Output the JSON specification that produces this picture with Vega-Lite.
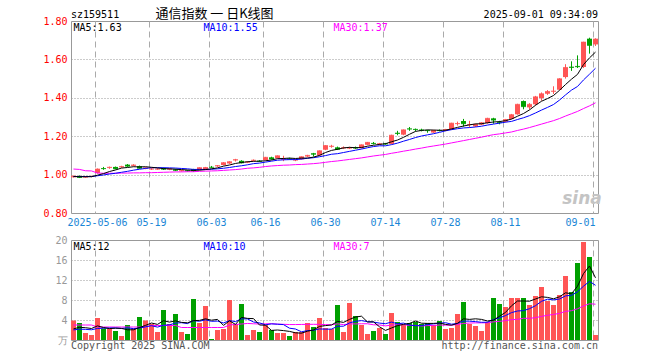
{
"$schema": "https://vega.github.io/schema/vega-lite/v6.json",
"background": "white",
"padding": {"left": 42, "top": 7, "right": 10, "bottom": 5},
"spacing": 6,
"config": {"view": {"stroke": "#999999", "strokeWidth": 1}, "axis": {"labelFont": "DejaVu Sans Mono", "labelFontSize": 10, "labelOverlap": false, "labelBound": false, "labelFlush": false, "labelSeparation": 0}},
"resolve": {"scale": {"x": "independent", "y": "independent"}},
"datasets": {"k": [
{"d":"2025-04-25","o":0.986,"h":0.995,"l":0.984,"c":0.992,"v":3.9,"m5":0.990,"m10":0.990,"m30":1.029,"vm5":2.22,"vm10":2.01,"vm30":3.0},
{"d":"2025-04-28","o":0.993,"h":0.996,"l":0.982,"c":0.985,"v":3.4,"m5":0.989,"m10":0.990,"m30":1.027,"vm5":2.54,"vm10":2.17,"vm30":3.0},
{"d":"2025-04-29","o":0.985,"h":0.992,"l":0.983,"c":0.989,"v":1.4,"m5":0.989,"m10":0.990,"m30":1.020,"vm5":2.46,"vm10":2.13,"vm30":3.0},
{"d":"2025-04-30","o":0.988,"h":0.994,"l":0.986,"c":0.991,"v":1.0,"m5":0.989,"m10":0.990,"m30":1.019,"vm5":2.30,"vm10":2.05,"vm30":3.0},
{"d":"2025-05-06","o":1.008,"h":1.032,"l":1.005,"c":1.029,"v":4.4,"m5":0.997,"m10":0.994,"m30":1.008,"vm5":2.82,"vm10":2.31,"vm30":2.6},
{"d":"2025-05-07","o":1.034,"h":1.040,"l":1.025,"c":1.031,"v":2.3,"m5":1.005,"m10":0.998,"m30":1.007,"vm5":2.50,"vm10":2.36,"vm30":2.6},
{"d":"2025-05-08","o":1.034,"h":1.042,"l":1.030,"c":1.038,"v":2.3,"m5":1.016,"m10":1.003,"m30":1.007,"vm5":2.28,"vm10":2.41,"vm30":2.6},
{"d":"2025-05-09","o":1.040,"h":1.042,"l":1.028,"c":1.030,"v":1.8,"m5":1.024,"m10":1.007,"m30":1.007,"vm5":2.36,"vm10":2.41,"vm30":2.6},
{"d":"2025-05-12","o":1.038,"h":1.046,"l":1.036,"c":1.042,"v":0.8,"m5":1.034,"m10":1.012,"m30":1.008,"vm5":2.32,"vm10":2.31,"vm30":2.6},
{"d":"2025-05-13","o":1.052,"h":1.055,"l":1.040,"c":1.044,"v":3.0,"m5":1.037,"m10":1.017,"m30":1.008,"vm5":2.04,"vm10":2.43,"vm30":2.6},
{"d":"2025-05-14","o":1.046,"h":1.054,"l":1.043,"c":1.050,"v":2.3,"m5":1.041,"m10":1.023,"m30":1.009,"vm5":2.04,"vm10":2.27,"vm30":2.6},
{"d":"2025-05-15","o":1.044,"h":1.047,"l":1.031,"c":1.033,"v":4.6,"m5":1.040,"m10":1.028,"m30":1.009,"vm5":2.50,"vm10":2.39,"vm30":2.6},
{"d":"2025-05-16","o":1.031,"h":1.038,"l":1.028,"c":1.035,"v":3.9,"m5":1.041,"m10":1.032,"m30":1.010,"vm5":2.92,"vm10":2.64,"vm30":2.6},
{"d":"2025-05-19","o":1.027,"h":1.035,"l":1.024,"c":1.030,"v":3.2,"m5":1.038,"m10":1.036,"m30":1.010,"vm5":3.40,"vm10":2.86,"vm30":2.9},
{"d":"2025-05-20","o":1.027,"h":1.034,"l":1.025,"c":1.029,"v":1.6,"m5":1.035,"m10":1.036,"m30":1.011,"vm5":3.12,"vm10":2.58,"vm30":2.9},
{"d":"2025-05-21","o":1.034,"h":1.037,"l":1.024,"c":1.028,"v":6.0,"m5":1.031,"m10":1.036,"m30":1.012,"vm5":3.86,"vm10":2.95,"vm30":2.9},
{"d":"2025-05-22","o":1.026,"h":1.033,"l":1.023,"c":1.030,"v":3.2,"m5":1.030,"m10":1.035,"m30":1.013,"vm5":3.58,"vm10":3.04,"vm30":2.9},
{"d":"2025-05-23","o":1.027,"h":1.030,"l":1.018,"c":1.022,"v":5.2,"m5":1.028,"m10":1.034,"m30":1.014,"vm5":3.84,"vm10":3.38,"vm30":2.9},
{"d":"2025-05-26","o":1.018,"h":1.025,"l":1.016,"c":1.021,"v":1.6,"m5":1.026,"m10":1.032,"m30":1.014,"vm5":3.52,"vm10":3.46,"vm30":2.5},
{"d":"2025-05-27","o":1.022,"h":1.024,"l":1.016,"c":1.019,"v":1.2,"m5":1.024,"m10":1.030,"m30":1.015,"vm5":3.44,"vm10":3.28,"vm30":2.5},
{"d":"2025-05-28","o":1.028,"h":1.030,"l":1.015,"c":1.019,"v":8.2,"m5":1.022,"m10":1.027,"m30":1.015,"vm5":3.88,"vm10":3.87,"vm30":2.5},
{"d":"2025-05-29","o":1.024,"h":1.038,"l":1.022,"c":1.036,"v":3.4,"m5":1.023,"m10":1.027,"m30":1.017,"vm5":3.92,"vm10":3.75,"vm30":2.5},
{"d":"2025-05-30","o":1.026,"h":1.040,"l":1.024,"c":1.037,"v":6.8,"m5":1.026,"m10":1.027,"m30":1.018,"vm5":4.24,"vm10":4.04,"vm30":2.5},
{"d":"2025-06-03","o":1.040,"h":1.045,"l":1.034,"c":1.038,"v":0.2,"m5":1.030,"m10":1.028,"m30":1.019,"vm5":3.96,"vm10":3.74,"vm30":2.5},
{"d":"2025-06-04","o":1.043,"h":1.050,"l":1.040,"c":1.047,"v":2.0,"m5":1.035,"m10":1.030,"m30":1.020,"vm5":4.12,"vm10":3.78,"vm30":2.5},
{"d":"2025-06-05","o":1.050,"h":1.065,"l":1.048,"c":1.062,"v":2.2,"m5":1.044,"m10":1.033,"m30":1.022,"vm5":2.92,"vm10":3.40,"vm30":2.5},
{"d":"2025-06-06","o":1.058,"h":1.070,"l":1.055,"c":1.067,"v":8.0,"m5":1.050,"m10":1.037,"m30":1.024,"vm5":3.84,"vm10":3.88,"vm30":3.0},
{"d":"2025-06-09","o":1.074,"h":1.082,"l":1.068,"c":1.078,"v":3.2,"m5":1.058,"m10":1.042,"m30":1.026,"vm5":3.12,"vm10":3.68,"vm30":3.1},
{"d":"2025-06-10","o":1.072,"h":1.075,"l":1.058,"c":1.061,"v":7.2,"m5":1.063,"m10":1.046,"m30":1.029,"vm5":4.52,"vm10":4.24,"vm30":3.2},
{"d":"2025-06-11","o":1.063,"h":1.070,"l":1.060,"c":1.066,"v":1.0,"m5":1.067,"m10":1.051,"m30":1.033,"vm5":4.32,"vm10":4.22,"vm30":3.31},
{"d":"2025-06-12","o":1.072,"h":1.079,"l":1.069,"c":1.075,"v":2.0,"m5":1.069,"m10":1.057,"m30":1.035,"vm5":4.28,"vm10":3.60,"vm30":3.25},
{"d":"2025-06-13","o":1.072,"h":1.075,"l":1.066,"c":1.069,"v":1.6,"m5":1.070,"m10":1.060,"m30":1.038,"vm5":3.00,"vm10":3.42,"vm30":3.19},
{"d":"2025-06-16","o":1.076,"h":1.092,"l":1.074,"c":1.090,"v":3.0,"m5":1.072,"m10":1.065,"m30":1.042,"vm5":2.96,"vm10":3.04,"vm30":3.24},
{"d":"2025-06-17","o":1.090,"h":1.093,"l":1.078,"c":1.081,"v":2.0,"m5":1.076,"m10":1.070,"m30":1.045,"vm5":1.92,"vm10":3.22,"vm30":3.27},
{"d":"2025-06-18","o":1.086,"h":1.100,"l":1.084,"c":1.098,"v":1.4,"m5":1.083,"m10":1.075,"m30":1.047,"vm5":2.00,"vm10":3.16,"vm30":3.17},
{"d":"2025-06-19","o":1.079,"h":1.098,"l":1.070,"c":1.081,"v":1.4,"m5":1.084,"m10":1.077,"m30":1.049,"vm5":1.88,"vm10":3.08,"vm30":3.14},
{"d":"2025-06-20","o":1.083,"h":1.088,"l":1.078,"c":1.081,"v":0.8,"m5":1.086,"m10":1.078,"m30":1.050,"vm5":1.72,"vm10":2.36,"vm30":3.09},
{"d":"2025-06-23","o":1.074,"h":1.081,"l":1.070,"c":1.077,"v":1.6,"m5":1.084,"m10":1.078,"m30":1.052,"vm5":1.44,"vm10":2.20,"vm30":3.09},
{"d":"2025-06-24","o":1.080,"h":1.095,"l":1.078,"c":1.093,"v":1.6,"m5":1.086,"m10":1.081,"m30":1.053,"vm5":1.36,"vm10":1.64,"vm30":3.11},
{"d":"2025-06-25","o":1.094,"h":1.103,"l":1.091,"c":1.100,"v":3.4,"m5":1.086,"m10":1.085,"m30":1.055,"vm5":1.76,"vm10":1.88,"vm30":3.13},
{"d":"2025-06-26","o":1.111,"h":1.113,"l":1.094,"c":1.106,"v":2.6,"m5":1.091,"m10":1.088,"m30":1.057,"vm5":2.00,"vm10":1.94,"vm30":3.14},
{"d":"2025-06-27","o":1.100,"h":1.126,"l":1.098,"c":1.124,"v":4.4,"m5":1.100,"m10":1.093,"m30":1.060,"vm5":2.72,"vm10":2.22,"vm30":3.13},
{"d":"2025-06-30","o":1.130,"h":1.153,"l":1.127,"c":1.151,"v":2.4,"m5":1.115,"m10":1.099,"m30":1.064,"vm5":2.88,"vm10":2.16,"vm30":3.08},
{"d":"2025-07-01","o":1.145,"h":1.155,"l":1.140,"c":1.148,"v":2.2,"m5":1.126,"m10":1.106,"m30":1.068,"vm5":3.00,"vm10":2.18,"vm30":3.05},
{"d":"2025-07-02","o":1.142,"h":1.146,"l":1.128,"c":1.132,"v":7.0,"m5":1.132,"m10":1.109,"m30":1.071,"vm5":3.72,"vm10":2.74,"vm30":3.23},
{"d":"2025-07-03","o":1.137,"h":1.147,"l":1.133,"c":1.140,"v":1.6,"m5":1.139,"m10":1.115,"m30":1.075,"vm5":3.52,"vm10":2.76,"vm30":3.08},
{"d":"2025-07-04","o":1.136,"h":1.145,"l":1.133,"c":1.140,"v":7.4,"m5":1.142,"m10":1.121,"m30":1.079,"vm5":4.12,"vm10":3.42,"vm30":3.22},
{"d":"2025-07-07","o":1.142,"h":1.146,"l":1.134,"c":1.138,"v":4.8,"m5":1.140,"m10":1.127,"m30":1.083,"vm5":4.60,"vm10":3.74,"vm30":3.21},
{"d":"2025-07-08","o":1.138,"h":1.157,"l":1.136,"c":1.155,"v":3.0,"m5":1.141,"m10":1.133,"m30":1.087,"vm5":4.76,"vm10":3.88,"vm30":3.25},
{"d":"2025-07-09","o":1.155,"h":1.170,"l":1.153,"c":1.168,"v":1.2,"m5":1.148,"m10":1.140,"m30":1.092,"vm5":3.60,"vm10":3.66,"vm30":3.25},
{"d":"2025-07-10","o":1.165,"h":1.170,"l":1.157,"c":1.162,"v":1.8,"m5":1.153,"m10":1.146,"m30":1.097,"vm5":3.64,"vm10":3.58,"vm30":3.04},
{"d":"2025-07-11","o":1.158,"h":1.165,"l":1.155,"c":1.161,"v":2.4,"m5":1.157,"m10":1.150,"m30":1.101,"vm5":2.64,"vm10":3.38,"vm30":3.01},
{"d":"2025-07-14","o":1.162,"h":1.165,"l":1.156,"c":1.159,"v":1.2,"m5":1.161,"m10":1.150,"m30":1.105,"vm5":1.92,"vm10":3.26,"vm30":2.82},
{"d":"2025-07-15","o":1.160,"h":1.208,"l":1.158,"c":1.205,"v":5.4,"m5":1.171,"m10":1.156,"m30":1.111,"vm5":2.40,"vm10":3.58,"vm30":2.99},
{"d":"2025-07-16","o":1.218,"h":1.228,"l":1.205,"c":1.214,"v":3.6,"m5":1.180,"m10":1.164,"m30":1.116,"vm5":2.88,"vm10":3.24,"vm30":3.05},
{"d":"2025-07-17","o":1.208,"h":1.235,"l":1.205,"c":1.233,"v":3.0,"m5":1.194,"m10":1.174,"m30":1.122,"vm5":3.12,"vm10":3.38,"vm30":3.07},
{"d":"2025-07-18","o":1.240,"h":1.248,"l":1.228,"c":1.237,"v":3.4,"m5":1.210,"m10":1.183,"m30":1.127,"vm5":3.32,"vm10":2.98,"vm30":2.92},
{"d":"2025-07-21","o":1.238,"h":1.240,"l":1.225,"c":1.235,"v":3.6,"m5":1.225,"m10":1.193,"m30":1.133,"vm5":3.80,"vm10":2.86,"vm30":2.93},
{"d":"2025-07-22","o":1.234,"h":1.239,"l":1.225,"c":1.231,"v":3.2,"m5":1.230,"m10":1.201,"m30":1.138,"vm5":3.36,"vm10":2.88,"vm30":2.80},
{"d":"2025-07-23","o":1.232,"h":1.233,"l":1.218,"c":1.229,"v":3.4,"m5":1.233,"m10":1.207,"m30":1.144,"vm5":3.32,"vm10":3.10,"vm30":2.88},
{"d":"2025-07-24","o":1.219,"h":1.233,"l":1.217,"c":1.230,"v":3.0,"m5":1.232,"m10":1.213,"m30":1.149,"vm5":3.32,"vm10":3.22,"vm30":2.91},
{"d":"2025-07-25","o":1.232,"h":1.235,"l":1.225,"c":1.229,"v":3.8,"m5":1.231,"m10":1.220,"m30":1.154,"vm5":3.40,"vm10":3.36,"vm30":2.99},
{"d":"2025-07-28","o":1.228,"h":1.238,"l":1.226,"c":1.235,"v":2.2,"m5":1.231,"m10":1.228,"m30":1.159,"vm5":3.12,"vm10":3.46,"vm30":2.96},
{"d":"2025-07-29","o":1.236,"h":1.270,"l":1.234,"c":1.268,"v":2.4,"m5":1.238,"m10":1.234,"m30":1.165,"vm5":2.96,"vm10":3.16,"vm30":2.97},
{"d":"2025-07-30","o":1.263,"h":1.276,"l":1.255,"c":1.266,"v":5.2,"m5":1.246,"m10":1.239,"m30":1.171,"vm5":3.32,"vm10":3.32,"vm30":3.10},
{"d":"2025-07-31","o":1.279,"h":1.290,"l":1.250,"c":1.265,"v":7.6,"m5":1.253,"m10":1.243,"m30":1.177,"vm5":4.24,"vm10":3.78,"vm30":3.31},
{"d":"2025-08-01","o":1.258,"h":1.280,"l":1.245,"c":1.261,"v":3.2,"m5":1.259,"m10":1.245,"m30":1.183,"vm5":4.12,"vm10":3.76,"vm30":3.39},
{"d":"2025-08-04","o":1.251,"h":1.265,"l":1.248,"c":1.262,"v":2.8,"m5":1.264,"m10":1.248,"m30":1.189,"vm5":4.24,"vm10":3.68,"vm30":3.43},
{"d":"2025-08-05","o":1.260,"h":1.273,"l":1.258,"c":1.270,"v":1.8,"m5":1.265,"m10":1.252,"m30":1.195,"vm5":4.12,"vm10":3.54,"vm30":3.43},
{"d":"2025-08-06","o":1.268,"h":1.296,"l":1.265,"c":1.293,"v":3.6,"m5":1.270,"m10":1.258,"m30":1.202,"vm5":3.80,"vm10":3.56,"vm30":3.44},
{"d":"2025-08-07","o":1.293,"h":1.296,"l":1.265,"c":1.284,"v":8.4,"m5":1.274,"m10":1.263,"m30":1.208,"vm5":3.96,"vm10":4.10,"vm30":3.63},
{"d":"2025-08-08","o":1.274,"h":1.280,"l":1.262,"c":1.271,"v":7.2,"m5":1.276,"m10":1.268,"m30":1.212,"vm5":4.76,"vm10":4.44,"vm30":3.73},
{"d":"2025-08-11","o":1.275,"h":1.290,"l":1.272,"c":1.287,"v":6.6,"m5":1.281,"m10":1.273,"m30":1.217,"vm5":5.52,"vm10":4.88,"vm30":3.87},
{"d":"2025-08-12","o":1.290,"h":1.316,"l":1.288,"c":1.312,"v":8.4,"m5":1.289,"m10":1.277,"m30":1.222,"vm5":6.84,"vm10":5.48,"vm30":4.07},
{"d":"2025-08-13","o":1.314,"h":1.369,"l":1.312,"c":1.366,"v":8.4,"m5":1.304,"m10":1.287,"m30":1.230,"vm5":7.80,"vm10":5.80,"vm30":4.12},
{"d":"2025-08-14","o":1.383,"h":1.386,"l":1.340,"c":1.354,"v":8.4,"m5":1.318,"m10":1.296,"m30":1.237,"vm5":7.80,"vm10":5.88,"vm30":4.35},
{"d":"2025-08-15","o":1.350,"h":1.372,"l":1.340,"c":1.366,"v":7.0,"m5":1.337,"m10":1.307,"m30":1.245,"vm5":7.76,"vm10":6.26,"vm30":4.33},
{"d":"2025-08-18","o":1.366,"h":1.410,"l":1.360,"c":1.405,"v":8.8,"m5":1.361,"m10":1.321,"m30":1.254,"vm5":8.20,"vm10":6.86,"vm30":4.47},
{"d":"2025-08-19","o":1.399,"h":1.428,"l":1.385,"c":1.421,"v":10.6,"m5":1.382,"m10":1.336,"m30":1.263,"vm5":8.64,"vm10":7.74,"vm30":4.72},
{"d":"2025-08-20","o":1.421,"h":1.440,"l":1.415,"c":1.433,"v":7.8,"m5":1.396,"m10":1.350,"m30":1.272,"vm5":8.52,"vm10":8.16,"vm30":4.94},
{"d":"2025-08-21","o":1.432,"h":1.460,"l":1.420,"c":1.435,"v":7.0,"m5":1.412,"m10":1.365,"m30":1.281,"vm5":8.24,"vm10":8.02,"vm30":5.11},
{"d":"2025-08-22","o":1.442,"h":1.502,"l":1.440,"c":1.499,"v":9.0,"m5":1.439,"m10":1.388,"m30":1.292,"vm5":8.64,"vm10":8.20,"vm30":5.33},
{"d":"2025-08-25","o":1.508,"h":1.575,"l":1.500,"c":1.558,"v":12.8,"m5":1.469,"m10":1.415,"m30":1.305,"vm5":9.44,"vm10":8.82,"vm30":5.72},
{"d":"2025-08-26","o":1.562,"h":1.590,"l":1.540,"c":1.558,"v":9.6,"m5":1.497,"m10":1.440,"m30":1.317,"vm5":9.24,"vm10":8.94,"vm30":5.86},
{"d":"2025-08-27","o":1.566,"h":1.621,"l":1.555,"c":1.562,"v":15.4,"m5":1.522,"m10":1.459,"m30":1.329,"vm5":10.76,"vm10":9.64,"vm30":6.25},
{"d":"2025-08-28","o":1.560,"h":1.692,"l":1.555,"c":1.690,"v":19.6,"m5":1.573,"m10":1.493,"m30":1.344,"vm5":13.28,"vm10":10.76,"vm30":6.81},
{"d":"2025-08-29","o":1.708,"h":1.713,"l":1.630,"c":1.673,"v":16.6,"m5":1.608,"m10":1.523,"m30":1.358,"vm5":14.80,"vm10":11.72,"vm30":7.25},
{"d":"2025-09-01","o":1.678,"h":1.710,"l":1.670,"c":1.706,"v":1.0,"m5":1.638,"m10":1.554,"m30":1.374,"vm5":12.44,"vm10":10.94,"vm30":7.16}
]},
"vconcat": [
{
 "width": 527, "height": 192,
 "data": {"name": "k"},
 "encoding": {"x": {"field": "d", "type": "ordinal", "title": null,
   "scale": {"paddingInner": 0.17, "paddingOuter": 0},
   "axis": {"values": ["2025-05-06","2025-05-19","2025-06-03","2025-06-16","2025-06-30","2025-07-14","2025-07-28","2025-08-11","2025-09-01"],
     "labelExpr": "datum.value == '2025-05-06' ? datum.value : substring(datum.value, 5)",
     "bandPosition": 0, "grid": true, "gridDash": [6,4], "gridColor": "#aaaaaa", "gridOpacity": 1,
     "ticks": false, "domain": false, "labelAngle": 0, "labelColor": "#1a86d6", "labelPadding": 4,
     "labelOverlap": false, "labelFlush": false, "title": null,
     "labelAlign": {"condition": {"test": "datum.value == '2025-09-01'", "value": "right"}, "value": "center"}}}},
 "layer": [
  {"mark": {"type": "rule", "strokeWidth": 1},
   "encoding": {"y": {"field": "l", "type": "quantitative", "title": null,
      "scale": {"domain": [0.8, 1.8], "nice": false, "zero": false},
      "axis": {"values": [0.8, 1.0, 1.2, 1.4, 1.6, 1.8], "tickCount": 12, "format": ".2f", "grid": true, "gridDash": [1,2], "gridColor": "#999999",
        "gridOpacity": {"condition": {"test": "datum.value == 0.8 || datum.value == 1.8", "value": 0}, "value": 1},
        "labelOverlap": false, "labelFlush": false, "labelBound": false,
        "ticks": false, "domain": false, "labelColor": "#ff0000", "labelPadding": 4, "title": null}},
    "y2": {"field": "h"},
    "color": {"condition": {"test": "datum.c >= datum.o", "value": "#ff5555"}, "value": "#00a000"}}},
  {"mark": {"type": "bar"},
   "encoding": {"y": {"field": "o", "type": "quantitative", "title": null}, "y2": {"field": "c"},
    "color": {"condition": {"test": "datum.c >= datum.o", "value": "#ff5555"}, "value": "#00a000"}}},
  {"mark": {"type": "tick", "thickness": 1, "size": 5},
   "encoding": {"y": {"field": "c", "type": "quantitative", "title": null},
    "color": {"condition": {"test": "datum.c >= datum.o", "value": "#ff5555"}, "value": "#00a000"}}},
  {"mark": {"type": "line", "color": "#ff00ff", "strokeWidth": 1}, "encoding": {"y": {"field": "m30", "type": "quantitative", "title": null}}},
  {"mark": {"type": "line", "color": "#0000ff", "strokeWidth": 1}, "encoding": {"y": {"field": "m10", "type": "quantitative", "title": null}}},
  {"mark": {"type": "line", "color": "#000000", "strokeWidth": 1}, "encoding": {"y": {"field": "m5", "type": "quantitative", "title": null}}},
  {"data": {"values": [{"t": "sz159511"}]},
   "mark": {"type": "text", "align": "left", "baseline": "alphabetic", "dx": -2.5, "dy": -3, "font": "DejaVu Sans Mono", "fontSize": 10, "color": "#000000"},
   "encoding": {"x": {"datum": "2025-04-25", "type": "ordinal"}, "y": {"datum": 1.8, "type": "quantitative"}, "text": {"field": "t"}}},
  {"data": {"values": [{"t": "通信指数 一 日K线图"}]},
   "mark": {"type": "text", "align": "center", "baseline": "alphabetic", "dx": 141, "dy": -3, "font": "Noto Sans CJK SC", "fontSize": 13, "color": "#000000"},
   "encoding": {"x": {"datum": "2025-04-25", "type": "ordinal"}, "y": {"datum": 1.8, "type": "quantitative"}, "text": {"field": "t"}}},
  {"data": {"values": [{"t": "2025-09-01 09:34:09"}]},
   "mark": {"type": "text", "align": "right", "baseline": "alphabetic", "dx": 2.5, "dy": -3, "font": "DejaVu Sans Mono", "fontSize": 10, "color": "#000000"},
   "encoding": {"x": {"datum": "2025-09-01", "type": "ordinal"}, "y": {"datum": 1.8, "type": "quantitative"}, "text": {"field": "t"}}},
  {"data": {"values": [{"t": "MA5:1.63", "c": "#000000", "dx": 2.5}, {"t": "MA10:1.55", "c": "#0000ff", "dx": 132.5}, {"t": "MA30:1.37", "c": "#ff00ff", "dx": 262.5}]},
   "mark": {"type": "text", "align": "left", "baseline": "top", "dy": 2, "font": "DejaVu Sans Mono", "fontSize": 10},
   "encoding": {"x": {"datum": "2025-04-25", "type": "ordinal"}, "y": {"datum": 1.8, "type": "quantitative"}, "text": {"field": "t"},
     "color": {"field": "c", "type": "nominal", "scale": null}, "xOffset": {"field": "dx", "type": "quantitative", "scale": null}}},
  {"data": {"values": [{"t": "sina"}]},
   "mark": {"type": "text", "align": "center", "baseline": "alphabetic", "dx": 4.5, "dy": -9, "font": "DejaVu Sans", "fontStyle": "italic", "fontWeight": "bold", "fontSize": 17, "color": "#c4c4c4"},
   "encoding": {"x": {"datum": "2025-08-27", "type": "ordinal"}, "y": {"datum": 0.8, "type": "quantitative"}, "text": {"field": "t"}}}
 ]
},
{
 "width": 527, "height": 100,
 "data": {"name": "k"},
 "encoding": {"x": {"field": "d", "type": "ordinal", "title": null,
   "scale": {"paddingInner": 0.17, "paddingOuter": 0},
   "axis": {"values": ["2025-05-06","2025-05-19","2025-06-03","2025-06-16","2025-06-30","2025-07-14","2025-07-28","2025-08-11","2025-09-01"],
     "bandPosition": 0, "grid": true, "gridDash": [6,4], "gridColor": "#aaaaaa", "labels": false, "ticks": false, "domain": false, "title": null}}},
 "layer": [
  {"mark": {"type": "bar"},
   "encoding": {"y": {"field": "v", "type": "quantitative", "title": null,
      "scale": {"domain": [0, 20], "nice": false},
      "axis": {"values": [0, 4, 8, 12, 16, 20], "tickCount": 12, "labelExpr": "datum.value == 0 ? '万' : datum.label", "grid": true, "gridDash": [1,2], "gridColor": "#999999",
        "gridOpacity": {"condition": {"test": "datum.value == 0 || datum.value == 20", "value": 0}, "value": 1},
        "labelOverlap": false, "labelFlush": false, "labelBound": false,
        "ticks": false, "domain": false, "labelColor": "#999999", "labelPadding": 4, "title": null}},
    "color": {"condition": {"test": "datum.c >= datum.o", "value": "#ff5555"}, "value": "#00a000"}}},
  {"mark": {"type": "line", "color": "#ff00ff", "strokeWidth": 1}, "encoding": {"y": {"field": "vm30", "type": "quantitative", "title": null}}},
  {"mark": {"type": "line", "color": "#0000ff", "strokeWidth": 1}, "encoding": {"y": {"field": "vm10", "type": "quantitative", "title": null}}},
  {"mark": {"type": "line", "color": "#000000", "strokeWidth": 1}, "encoding": {"y": {"field": "vm5", "type": "quantitative", "title": null}}},
  {"data": {"values": [{"t": "MA5:12", "c": "#000000", "dx": 2.5}, {"t": "MA10:10", "c": "#0000ff", "dx": 132.5}, {"t": "MA30:7", "c": "#ff00ff", "dx": 262.5}]},
   "mark": {"type": "text", "align": "left", "baseline": "top", "dy": 2, "font": "DejaVu Sans Mono", "fontSize": 10},
   "encoding": {"x": {"datum": "2025-04-25", "type": "ordinal"}, "y": {"datum": 20, "type": "quantitative"}, "text": {"field": "t"},
     "color": {"field": "c", "type": "nominal", "scale": null}, "xOffset": {"field": "dx", "type": "quantitative", "scale": null}}},
  {"data": {"values": [{"t": "Copyright 2025 SINA.COM"}]},
   "mark": {"type": "text", "align": "left", "baseline": "alphabetic", "dx": -2.5, "dy": 9, "font": "DejaVu Sans Mono", "fontSize": 10, "color": "#555555"},
   "encoding": {"x": {"datum": "2025-04-25", "type": "ordinal"}, "y": {"datum": 0, "type": "quantitative"}, "text": {"field": "t"}}},
  {"data": {"values": [{"t": "http://finance.sina.com.cn"}]},
   "mark": {"type": "text", "align": "right", "baseline": "alphabetic", "dx": 2.5, "dy": 9, "font": "DejaVu Sans Mono", "fontSize": 10, "color": "#555555"},
   "encoding": {"x": {"datum": "2025-09-01", "type": "ordinal"}, "y": {"datum": 0, "type": "quantitative"}, "text": {"field": "t"}}}
 ]
}
]
}
